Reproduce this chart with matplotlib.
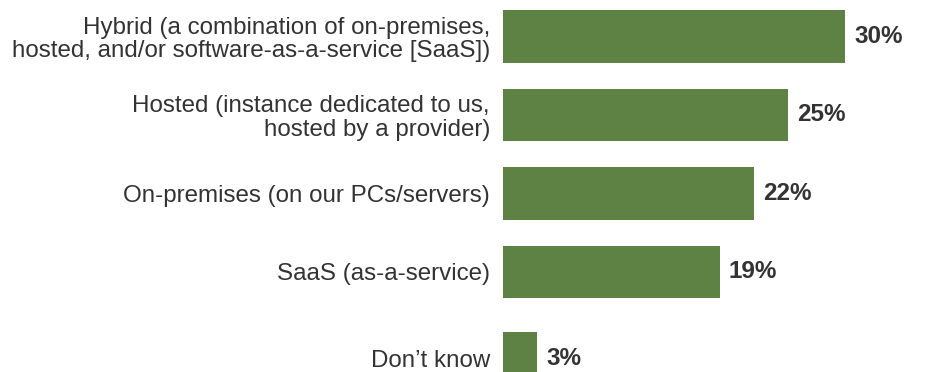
import matplotlib.pyplot as plt

# chart data
categories = ["Hybrid (a combination of on-premises,\nhosted, and/or software-as-a-service [SaaS])",
              "Hosted (instance dedicated to us,\nhosted by a provider)",
              "On-premises (on our PCs/servers)",
              "SaaS (as-a-service)",
              "Don\u2019t know"]
values = [30, 25, 22, 19, 3]

# layout
rows = [0, 1, 2, 3, 4.1]
bar_color = "#5e8243"
text_color = "#333333"

plt.rcParams["font.family"] = ["Liberation Sans", "DejaVu Sans"]

fig = plt.figure(figsize=(9.35, 3.72), dpi=100)
ax = fig.add_axes([503 / 935, 0, 432 / 935, 1])

ax.barh(rows, values, height=0.675, color=bar_color)

for y, v in zip(rows, values):
    ax.text(v + 0.8, y, "%d%%" % v, va="center", ha="left",
            fontsize=17.5, fontweight="bold", color=text_color)

ax.set_xlim(0, 432 / 11.4)
ax.set_ylim(4.274, -0.465)

ax.set_yticks(rows)
ax.set_yticklabels(categories, fontsize=17.4, color=text_color, linespacing=1.08)
ax.tick_params(axis="y", length=0, pad=9.4)
ax.set_xticks([])

for s in ax.spines.values():
    s.set_visible(False)

plt.savefig("out.png", dpi=100)
